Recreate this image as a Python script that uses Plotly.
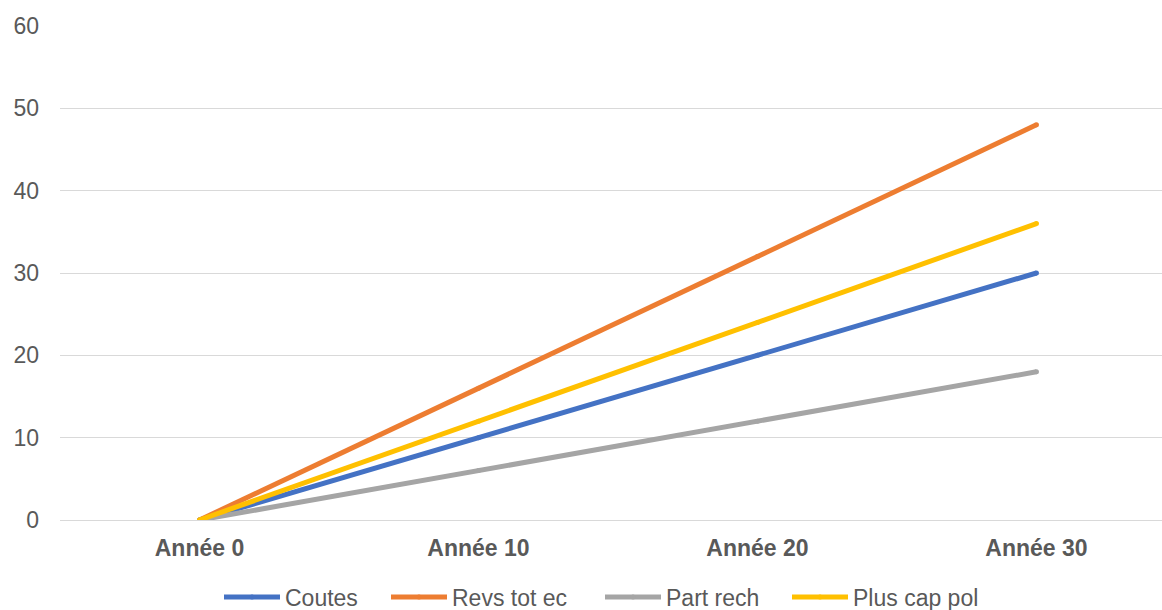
import plotly.graph_objects as go

# Categories and series values
years = ["Année 0", "Année 10", "Année 20", "Année 30"]
coutes = [0, 10, 20, 30]
revs_tot_ec = [0, 16, 32, 48]
part_rech = [0, 6, 12, 18]
plus_cap_pol = [0, 12, 24, 36]

series_names = ["Coutes", "Revs tot ec", "Part rech", "Plus cap pol"]
series_values = [coutes, revs_tot_ec, part_rech, plus_cap_pol]
series_colors = ["#4472C4", "#ED7D31", "#A5A5A5", "#FFC000"]

# Left edge (px) of each legend entry along the bottom row
legend_left_px = [219, 386, 600, 787]

font_family = "Liberation Sans, Arial, sans-serif"
text_color = "#595959"

fig = go.Figure()
legend_layouts = {}
for i, (name, vals, color) in enumerate(zip(series_names, series_values, series_colors)):
    legend_id = "legend" if i == 0 else f"legend{i + 1}"
    fig.add_trace(go.Scatter(
        x=years, y=vals, name=name, mode="lines+markers",
        line=dict(color=color, width=5),
        marker=dict(color=color, size=5),
        legend=legend_id,
    ))
    legend_layouts[legend_id] = dict(
        orientation="h",
        xref="container", x=legend_left_px[i] / 1162, xanchor="left",
        yref="container", y=13 / 610, yanchor="middle",
        font=dict(size=23, color=text_color, family=font_family),
        itemwidth=56, bgcolor="rgba(0,0,0,0)",
    )

fig.update_layout(
    width=1162, height=610,
    margin=dict(l=60, r=0, t=26, b=90),
    paper_bgcolor="white", plot_bgcolor="white",
    font=dict(family=font_family, size=23, color=text_color),
    showlegend=True,
    xaxis=dict(
        type="category", range=[-0.5, 3.45],
        showgrid=False, showline=False, ticks="",
        tickfont=dict(size=23, color=text_color, weight="bold"),
        ticklabelstandoff=12,
    ),
    yaxis=dict(
        range=[0, 60], dtick=10, showgrid=True, gridcolor="#D9D9D9",
        gridwidth=1, zeroline=True, zerolinecolor="#D9D9D9", zerolinewidth=1,
        showline=False, ticks="", ticklabelstandoff=20,
        tickfont=dict(size=23, color=text_color),
    ),
    **legend_layouts,
)

fig.write_html("out.html")
